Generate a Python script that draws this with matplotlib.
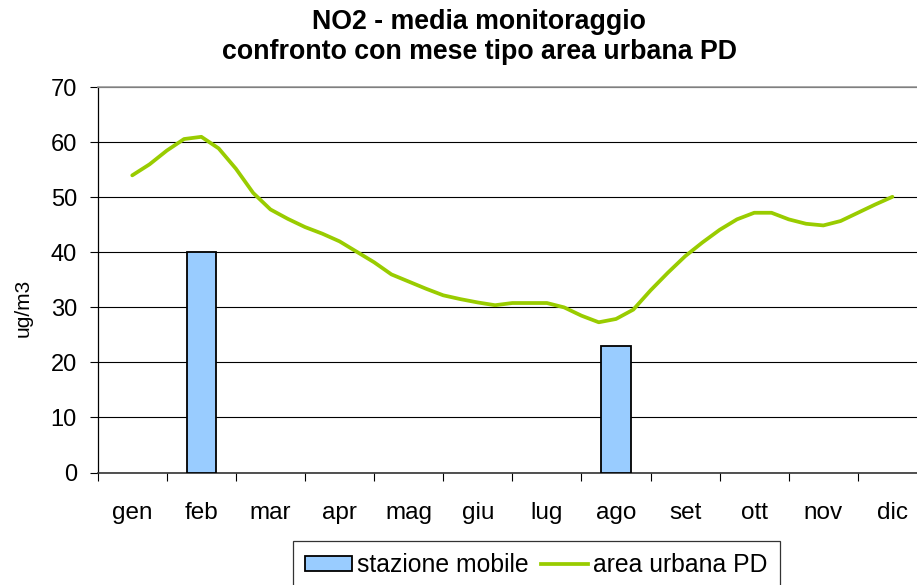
import numpy as np
import matplotlib
matplotlib.use("Agg")
import matplotlib.pyplot as plt
from matplotlib.patches import Patch
from matplotlib.lines import Line2D

plt.rcParams['font.family'] = ['Liberation Sans', 'DejaVu Sans']

# ---- data ----
mesi = ['gen', 'feb', 'mar', 'apr', 'mag', 'giu', 'lug', 'ago', 'set', 'ott', 'nov', 'dic']
stazione_mobile = [None, 40, None, None, None, None, None, 23, None, None, None, None]
# "mese tipo" area urbana PD, sampled four times per month (from gen to dic)
area_urbana_pd = [54.0, 56.0, 58.5, 60.6, 61.0, 58.9, 55.2, 50.8, 47.8, 46.1,
                  44.6, 43.4, 42.0, 40.1, 38.2, 36.0, 34.7, 33.4, 32.2, 31.5,
                  30.9, 30.4, 30.8, 30.8, 30.8, 30.0, 28.5, 27.3, 27.9, 29.6,
                  33.1, 36.3, 39.3, 41.8, 44.1, 46.0, 47.2, 47.2, 46.0, 45.2,
                  44.9, 45.7, 47.2, 48.7, 50.1]
y_ticks = [0, 10, 20, 30, 40, 50, 60, 70]
titolo = ['NO2 - media monitoraggio', 'confronto con mese tipo area urbana PD']
y_label = 'ug/m3'
leg_labels = ['stazione mobile', 'area urbana PD']

W, H = 917, 585
fig = plt.figure(figsize=(W / 100, H / 100), dpi=100)

left, right, top, bottom = 97.7, 927.0, 87.3, 472.5
ax = fig.add_axes([left / W, 1 - bottom / H, (right - left) / W, (bottom - top) / H])

bar_color = '#99CCFF'
line_color = '#99CC00'

n = len(mesi)
xb = [i for i, v in enumerate(stazione_mobile) if v is not None]
vb = [v for v in stazione_mobile if v is not None]
ax.bar(xb, vb, width=0.42, color=bar_color, edgecolor='black', linewidth=1.3, zorder=3)

steps_per_month = (len(area_urbana_pd) - 1) / (n - 1)
xl = np.arange(len(area_urbana_pd)) / steps_per_month
ax.plot(xl, area_urbana_pd, color=line_color, linewidth=2.7, solid_capstyle='round',
        solid_joinstyle='round', zorder=4)

ax.set_xlim(-0.5, n - 0.5)
ax.set_ylim(0, 70)
ax.set_yticks(y_ticks)
ax.set_yticklabels([str(t) for t in y_ticks], fontsize=17)
ax.yaxis.grid(True, color='black', linewidth=0.8)
ax.set_axisbelow(True)

ax.set_xticks(range(n))
ax.set_xticklabels(mesi, fontsize=17.5)
ax.set_xticks(np.arange(n) - 0.5, minor=True)
ax.tick_params(axis='x', which='major', length=0, pad=21)
ax.tick_params(axis='x', which='minor', length=6, width=0.8, direction='out')
ax.tick_params(axis='y', length=6, width=0.8, direction='out', pad=9)

for s in ['right']:
    ax.spines[s].set_visible(False)
ax.spines['top'].set_color('#999999')
ax.spines['top'].set_linewidth(1.2)
ax.spines['left'].set_linewidth(0.9)
ax.spines['bottom'].set_linewidth(1.2)
ax.spines['bottom'].set_color('#333333')

fig.text(23 / W, 1 - 308 / H, y_label, rotation=90, ha='center', va='center', fontsize=15)

fig.text(479 / W, 1 - 29 / H, titolo[0], ha='center', va='baseline', fontsize=19.3, fontweight='bold')
fig.text(479 / W, 1 - 59 / H, titolo[1], ha='center', va='baseline', fontsize=19.3, fontweight='bold')

handles = [Patch(facecolor=bar_color, edgecolor='black', linewidth=1.3),
           Line2D([0], [0], color=line_color, linewidth=2.7)]
leg = fig.legend(handles, leg_labels, loc='upper left', bbox_to_anchor=(293 / W, 1 - 541 / H),
                 ncol=2, fontsize=17.8, frameon=True, fancybox=False, edgecolor='black',
                 handlelength=1.9, handleheight=0.6, handletextpad=0.2, columnspacing=0.5,
                 borderpad=0.5, borderaxespad=0)
leg.get_frame().set_linewidth(0.9)

fig.savefig('out.png', dpi=100)
